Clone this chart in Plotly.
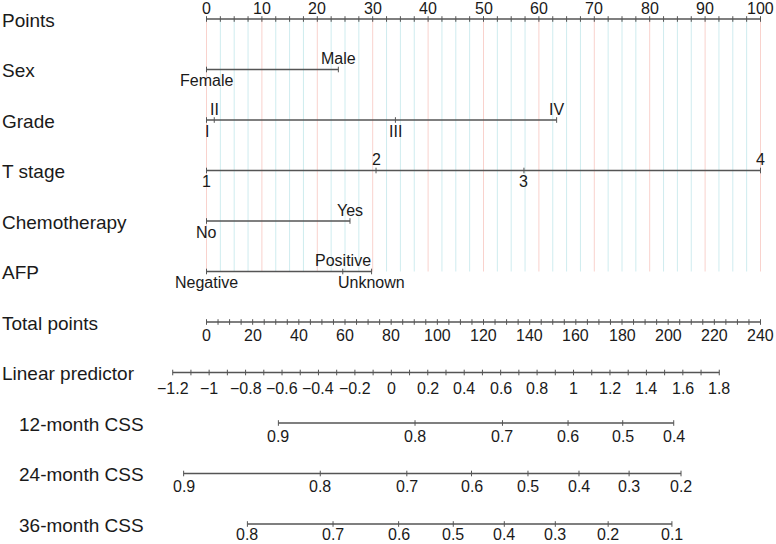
import numpy as np
import plotly.graph_objects as go

# ---- data ----
row_names = ["Points", "Sex", "Grade", "T stage", "Chemotherapy", "AFP",
             "Total points", "Linear predictor",
             "12-month CSS", "24-month CSS", "36-month CSS"]

points_ticks = [0, 10, 20, 30, 40, 50, 60, 70, 80, 90, 100]

sex_levels = ["Female", "Male"]
sex_points = [0, 23.8]

grade_levels = ["I", "II", "III", "IV"]
grade_points = [0, 1.4, 34.1, 63.2]

tstage_levels = ["1", "2", "3", "4"]
tstage_points = [0, 30.6, 57.3, 100]

chemo_levels = ["No", "Yes"]
chemo_points = [0, 25.9]

afp_levels = ["Negative", "Positive", "Unknown"]
afp_points = [0, 24.6, 29.8]

total_ticks = [0, 20, 40, 60, 80, 100, 120, 140, 160, 180, 200, 220, 240]
total_max = 240

lp_ticks = [-1.2, -1, -0.8, -0.6, -0.4, -0.2, 0, 0.2, 0.4, 0.6, 0.8, 1, 1.2, 1.4, 1.6, 1.8]
# linear predictor position on the points scale (read from the two ends)
lp_end_vals = [-1.2, 1.8]
lp_end_pts = [-6.10, 92.56]

css12_labels = ["0.9", "0.8", "0.7", "0.6", "0.5", "0.4"]
css12_lp = [-0.62, 0.13, 0.61, 0.97, 1.27, 1.55]

css24_labels = ["0.9", "0.8", "0.7", "0.6", "0.5", "0.4", "0.3", "0.2"]
css24_lp = [-1.14, -0.39, 0.085, 0.44, 0.75, 1.03, 1.305, 1.59]

css36_labels = ["0.8", "0.7", "0.6", "0.5", "0.4", "0.3", "0.2", "0.1"]
css36_lp = [-0.79, -0.32, 0.04, 0.34, 0.62, 0.90, 1.19, 1.54]

# ---- helpers ----
slope = (lp_end_pts[1] - lp_end_pts[0]) / (lp_end_vals[1] - lp_end_vals[0])
offset = lp_end_pts[0] - slope * lp_end_vals[0]


def lp_to_pts(v):
    return [offset + slope * x for x in v]


AXIS = "#555555"
TXT = "#1a1a1a"
FONT = "Liberation Sans, Arial, sans-serif"

fig = go.Figure()


def axis_line(xs, row):
    fig.add_trace(go.Scatter(x=[min(xs), max(xs)], y=[row, row], mode="lines",
                             line=dict(color=AXIS, width=1.3), hoverinfo="skip"))


def ticks(xs, row, size=4):
    fig.add_trace(go.Scatter(x=list(xs), y=[row] * len(xs), mode="markers",
                             marker=dict(symbol="line-ns", size=size,
                                         line=dict(color=AXIS, width=1)),
                             hoverinfo="skip"))


def labels(xs, row, texts, shift, size=16):
    for x, t in zip(xs, texts):
        fig.add_annotation(x=x, y=row, text=t, showarrow=False, yshift=shift,
                           xanchor="center", yanchor="middle",
                           font=dict(size=size, color=TXT, family=FONT))


# vertical reference grid (every 2.5 points, red every 10)
grid = np.arange(0, 100.01, 2.5)
red_x, red_y, cy_x, cy_y = [], [], [], []
for g in grid:
    if abs(g % 10) < 1e-9:
        red_x += [g, g, None]; red_y += [0, 5, None]
    else:
        cy_x += [g, g, None]; cy_y += [0, 5, None]
fig.add_trace(go.Scatter(x=cy_x, y=cy_y, mode="lines", line=dict(color="#cfecef", width=1), hoverinfo="skip"))
fig.add_trace(go.Scatter(x=red_x, y=red_y, mode="lines", line=dict(color="#f9d2cd", width=1), hoverinfo="skip"))

# Points
axis_line(points_ticks, 0)
ticks(grid, 0, 4)
labels(points_ticks, 0, [str(t) for t in points_ticks], 11)


def cat_row(pts, levels, row):
    axis_line(pts, row)
    ticks(pts, row, 4)
    up = [(p, l) for i, (p, l) in enumerate(zip(pts, levels)) if i % 2 == 1]
    dn = [(p, l) for i, (p, l) in enumerate(zip(pts, levels)) if i % 2 == 0]
    labels([p for p, _ in up], row, [l for _, l in up], 11)
    labels([p for p, _ in dn], row, [l for _, l in dn], -11)


cat_row(sex_points, sex_levels, 1)
cat_row(grade_points, grade_levels, 2)
cat_row(tstage_points, tstage_levels, 3)
cat_row(chemo_points, chemo_levels, 4)
cat_row(afp_points, afp_levels, 5)

# Total points
tot_pts = [t / total_max * 100 for t in total_ticks]
axis_line(tot_pts, 6)
ticks([t / total_max * 100 for t in np.arange(0, total_max + 0.1, 5)], 6, 4)
labels(tot_pts, 6, [str(t) for t in total_ticks], -13)

# Linear predictor
lp_pts = lp_to_pts(lp_ticks)
axis_line(lp_pts, 7)
ticks(lp_to_pts(np.arange(lp_ticks[0], lp_ticks[-1] + 0.01, 0.1)), 7, 4)
labels(lp_pts, 7, [f"{t:g}".replace("-", "\u2212") for t in lp_ticks], -16)

# survival scales
for row, labs, lps, sh in [(8, css12_labels, css12_lp, -13), (9, css24_labels, css24_lp, -12.5),
                           (10, css36_labels, css36_lp, -10.5)]:
    xs = lp_to_pts(lps)
    axis_line(xs, row)
    ticks(xs, row, 4)
    labels(xs, row, labs, sh)

# row titles
for i, name in enumerate(row_names):
    fig.add_annotation(x=(17 / 776 if i >= 8 else 0), xref="paper", xanchor="left",
                       y=i, yref="y", yanchor="middle", yshift=-1, text=name, showarrow=False,
                       font=dict(size=19, color=TXT, family=FONT))

px_per_pt = 5.54
x0 = 206.5
row_px0, row_dy = 19, 50.5
fig.update_layout(
    width=776, height=544, margin=dict(l=0, r=0, t=0, b=0),
    plot_bgcolor="white", paper_bgcolor="white", showlegend=False,
    font=dict(family=FONT, color=TXT),
    xaxis=dict(range=[-x0 / px_per_pt, (776 - x0) / px_per_pt], visible=False, fixedrange=True),
    yaxis=dict(range=[(544 - row_px0) / row_dy, -row_px0 / row_dy], visible=False, fixedrange=True),
)

fig.write_html("out.html", config={"displayModeBar": False},
               post_script="document.body.style.margin='0px';")
